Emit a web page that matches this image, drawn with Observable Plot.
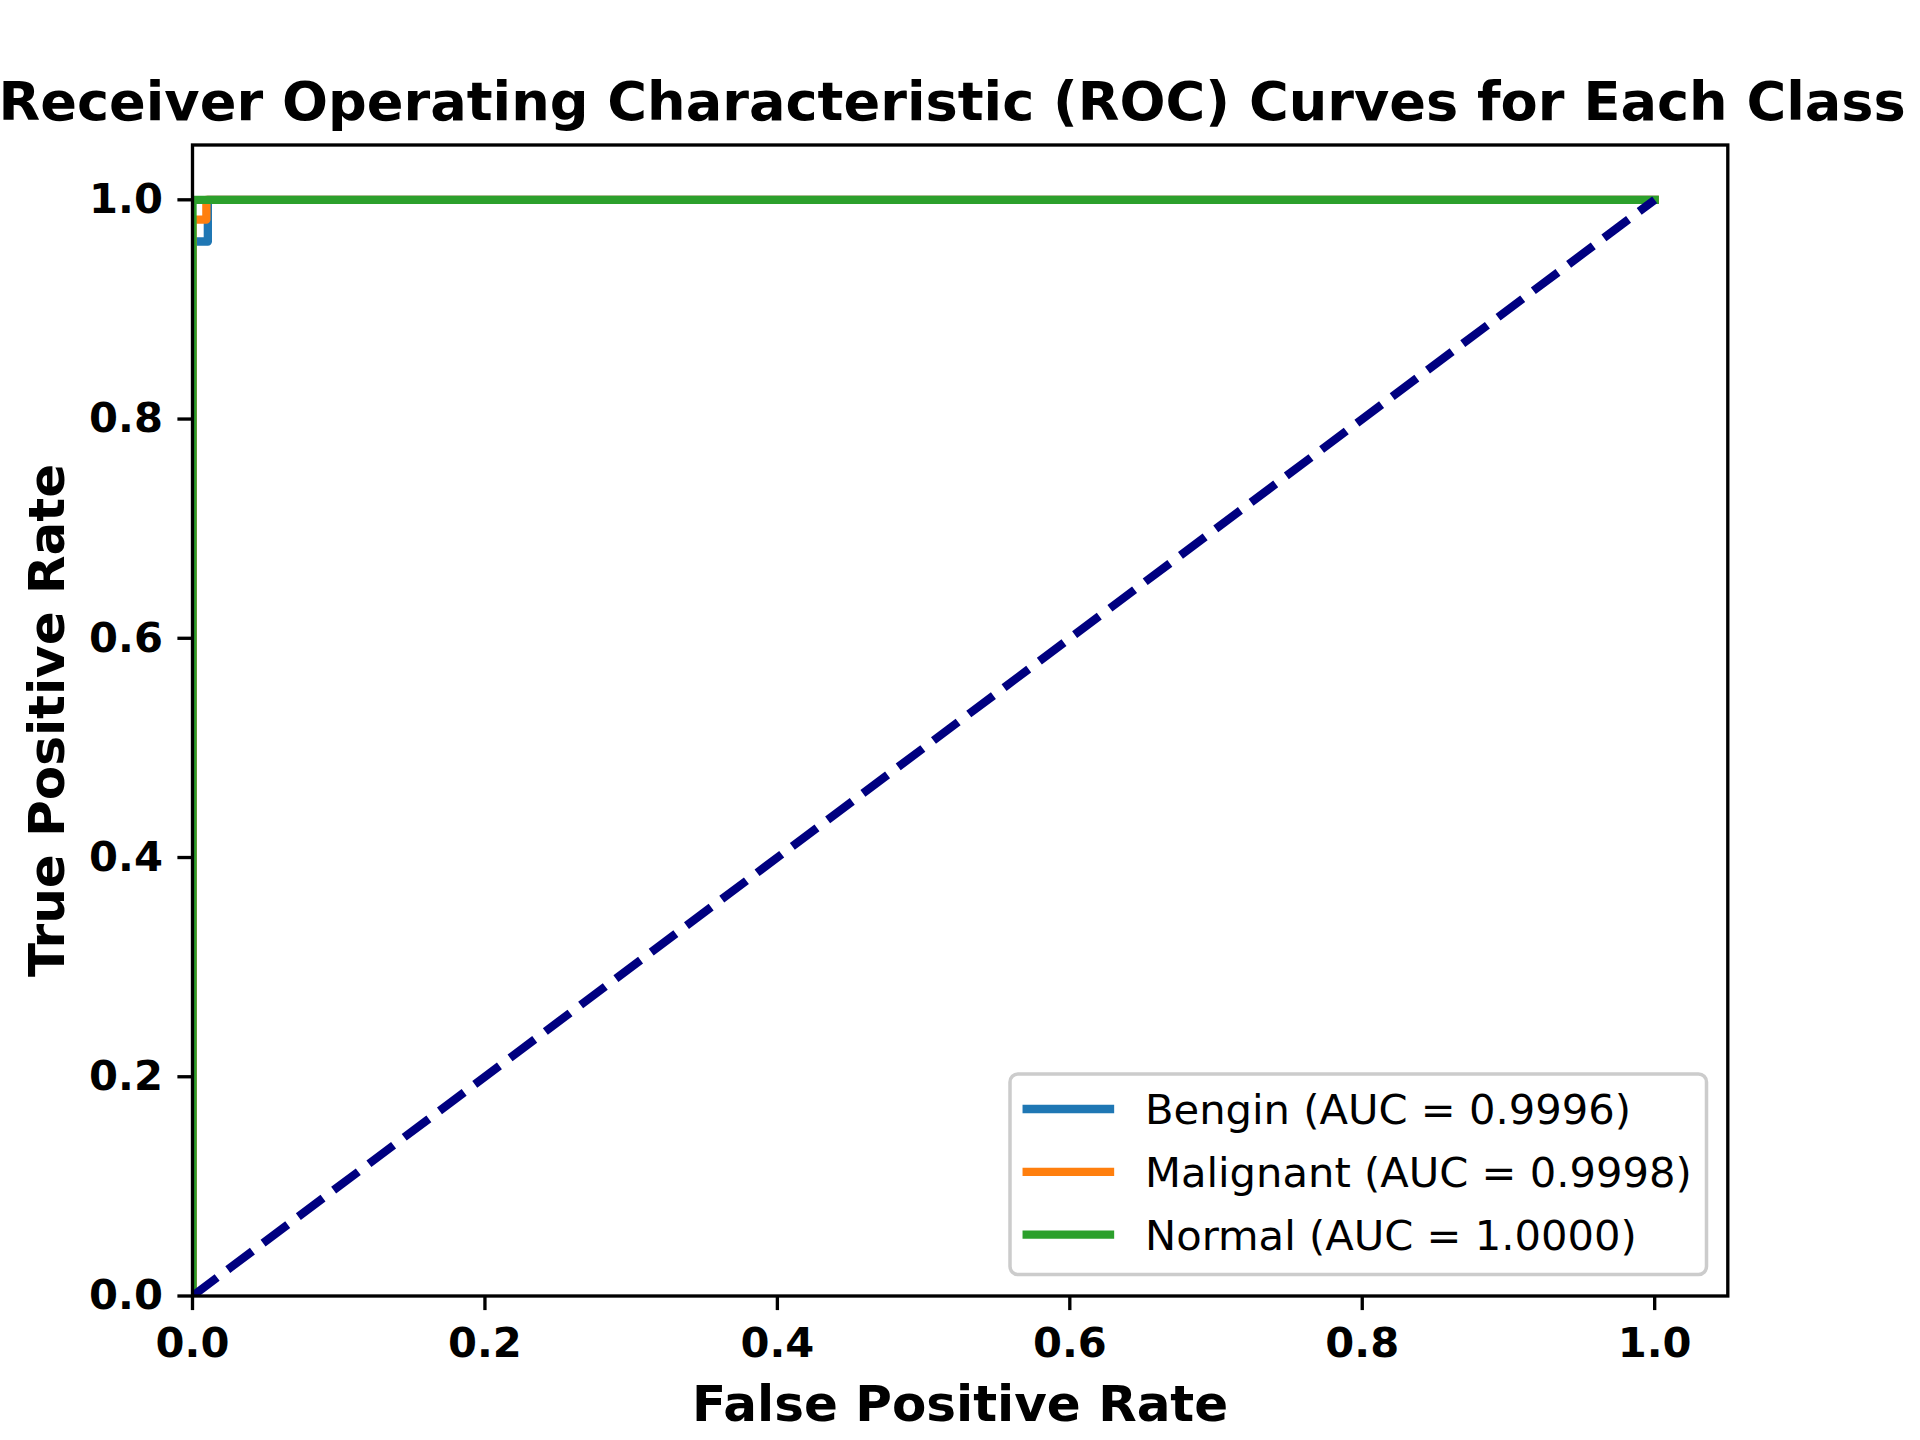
<!DOCTYPE html>
<html>
<head>
<meta charset="utf-8">
<script src="https://cdn.jsdelivr.net/npm/d3@7"></script>
<script src="https://cdn.jsdelivr.net/npm/@observablehq/plot@0.6"></script>
<style>
  html, body { margin: 0; padding: 0; background: #ffffff; }
  #chart { width: 1920px; height: 1440px; }
</style>
</head>
<body>
<div id="chart"></div>
<script>
// ---- data ----
const titleText = "Receiver Operating Characteristic (ROC) Curves for Each Class";
const xLabel = "False Positive Rate";
const yLabel = "True Positive Rate";
const classNames = ["Bengin", "Malignant", "Normal"];
const aucValues = [0.9996, 0.9998, 1.0000];
const classColors = ["#1f77b4", "#ff7f0e", "#2ca02c"];
const fprBengin = [0, 0, 0.0105, 0.0105, 1];
const tprBengin = [0, 0.962, 0.962, 1, 1];
const fprMalignant = [0, 0, 0.0095, 0.0095, 1];
const tprMalignant = [0, 0.982, 0.982, 1, 1];
const fprNormal = [0, 0, 1];
const tprNormal = [0, 1, 1];
const chanceX = [0, 1];
const chanceY = [0, 1];
const xTicks = [0, 0.2, 0.4, 0.6, 0.8, 1.0];
const yTicks = [0, 0.2, 0.4, 0.6, 0.8, 1.0];

// ---- tables built from the arrays ----
const fprs = [fprBengin, fprMalignant, fprNormal];
const tprs = [tprBengin, tprMalignant, tprNormal];
const curveRows = classNames.flatMap((cls, k) =>
  fprs[k].map((x, i) => ({cls, x, y: tprs[k][i]}))
);
const chanceRows = chanceX.map((x, i) => ({x, y: chanceY[i]}));

const FONT = "'DejaVu Sans', sans-serif";
const LW = 8.33;     // 2pt at 300 dpi
const SPINE = 3.33;  // 0.8pt
const TICKFS = 41.67;

const plot = Plot.plot({
  width: 1920,
  height: 1440,
  marginLeft: 192,
  marginRight: 192.7,
  marginTop: 144.5,
  marginBottom: 144.5,
  style: {fontFamily: FONT, fontSize: TICKFS + "px", background: "#ffffff", color: "black", overflow: "visible"},
  x: {domain: [0, 1.05]},
  y: {domain: [0, 1.05]},
  color: {domain: classNames, range: classColors},
  marks: [
    Plot.line(curveRows, {
      x: "x", y: "y", z: "cls", stroke: "cls",
      strokeWidth: LW, strokeLinecap: "square", strokeLinejoin: "round",
      curve: "linear", clip: true
    }),
    Plot.line(chanceRows, {
      x: "x", y: "y", stroke: "#000080",
      strokeWidth: LW, strokeDasharray: "30.8,13.3", strokeLinecap: "butt",
      clip: true
    }),
    Plot.frame({stroke: "black", strokeWidth: SPINE}),
    Plot.axisX({
      ticks: xTicks, tickFormat: d3.format(".1f"), tickSize: 14.6, tickPadding: 17,
      fontSize: TICKFS, fontWeight: "bold", strokeWidth: SPINE, label: null
    }),
    Plot.axisY({
      ticks: yTicks, tickFormat: d3.format(".1f"), tickSize: 14.6, tickPadding: 15,
      fontSize: TICKFS, fontWeight: "bold", strokeWidth: SPINE, label: null
    }),
    Plot.text([titleText], {
      frameAnchor: "top", dx: -8, dy: -25, lineAnchor: "bottom", textAnchor: "middle",
      fontSize: 54.17, fontWeight: "bold", fill: "black"
    }),
    Plot.text([xLabel], {
      frameAnchor: "bottom", dy: 124.5, lineAnchor: "bottom", textAnchor: "middle",
      fontSize: 50, fontWeight: "bold", fill: "black"
    }),
    Plot.text([yLabel], {
      frameAnchor: "left", dx: -129, rotate: -90, lineAnchor: "bottom", textAnchor: "middle",
      fontSize: 50, fontWeight: "bold", fill: "black"
    })
  ]
});

// ---- legend (lower right, matplotlib style) ----
const svg = d3.select(plot);
const lg = svg.append("g").attr("class", "legend");
const boxX = 1010, boxY = 1074, boxW = 696.5, boxH = 200.5;
lg.append("rect")
  .attr("x", boxX).attr("y", boxY).attr("width", boxW).attr("height", boxH)
  .attr("rx", 8).attr("ry", 8)
  .attr("fill", "white").attr("fill-opacity", 0.8)
  .attr("stroke", "#cccccc").attr("stroke-width", 3.5);
const rowY0 = 1109, rowStep = 62.85;
classNames.forEach((name, i) => {
  const cy = rowY0 + i * rowStep;
  lg.append("line")
    .attr("x1", 1026.7).attr("x2", 1110).attr("y1", cy).attr("y2", cy)
    .attr("stroke", classColors[i]).attr("stroke-width", LW)
    .attr("stroke-linecap", "square");
  lg.append("text")
    .attr("x", 1145).attr("y", cy + 15)
    .attr("text-anchor", "start")
    .attr("font-family", FONT).attr("font-size", TICKFS).attr("font-weight", "normal")
    .attr("fill", "black")
    .text(`${name} (AUC = ${aucValues[i].toFixed(4)})`);
});

document.getElementById("chart").appendChild(plot);
</script>
</body>
</html>
